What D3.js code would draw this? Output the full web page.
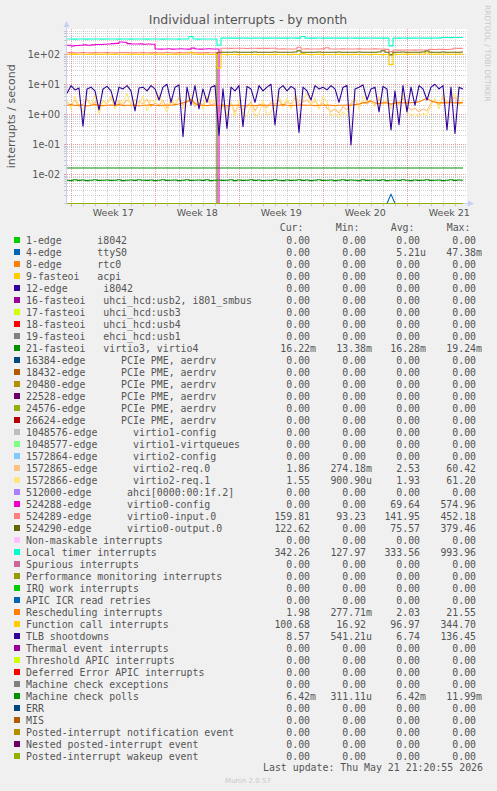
<!DOCTYPE html>
<html><head><meta charset="utf-8">
<script src="https://cdn.jsdelivr.net/npm/d3@7"></script>
<style>
html,body{margin:0;padding:0;background:#F0F0F0;}
svg{display:block;}
text{font-family:"DejaVu Sans",sans-serif;fill:#555;}
text.mono{font-family:"DejaVu Sans Mono",monospace;white-space:pre;}
</style></head><body>
<svg id="chart" width="497" height="791"></svg>
<script>
// ---------- DATA ----------
const chartTitle = "Individual interrupts - by month";
const yAxisLabel = "interrupts / second";
const viewStart = "2026-04-18T15:20:55Z";
const viewEnd = "2026-05-21T23:20:55Z";
const stepHours = 8;
const lastUpdate = "Last update: Thu May 21 21:20:55 2026";
const versionText = "Munin 2.0.57";
const watermark = "RRDTOOL / TOBI OETIKER";

const yTickValues = [100, 10, 1, 0.1, 0.01];
const yTickLabels = ["1e+02", "1e+01", "1e+00", "1e-01", "1e-02"];
const weekStarts = ["2026-04-19", "2026-04-26", "2026-05-03", "2026-05-10", "2026-05-17"];
const weekLabels = ["Week 17", "Week 18", "Week 19", "Week 20", "Week 21"];

const seriesNames = [
  "1-edge      i8042", "4-edge      ttyS0", "8-edge      rtc0", "9-fasteoi   acpi",
  "12-edge      i8042", "16-fasteoi   uhci_hcd:usb2, i801_smbus", "17-fasteoi   uhci_hcd:usb3",
  "18-fasteoi   uhci_hcd:usb4", "19-fasteoi   ehci_hcd:usb1", "21-fasteoi   virtio3, virtio4",
  "16384-edge      PCIe PME, aerdrv", "18432-edge      PCIe PME, aerdrv", "20480-edge      PCIe PME, aerdrv",
  "22528-edge      PCIe PME, aerdrv", "24576-edge      PCIe PME, aerdrv", "26624-edge      PCIe PME, aerdrv",
  "1048576-edge      virtio1-config", "1048577-edge      virtio1-virtqueues", "1572864-edge      virtio2-config",
  "1572865-edge      virtio2-req.0", "1572866-edge      virtio2-req.1", "512000-edge      ahci[0000:00:1f.2]",
  "524288-edge      virtio0-config", "524289-edge      virtio0-input.0", "524290-edge      virtio0-output.0",
  "Non-maskable interrupts", "Local timer interrupts", "Spurious interrupts",
  "Performance monitoring interrupts", "IRQ work interrupts", "APIC ICR read retries",
  "Rescheduling interrupts", "Function call interrupts", "TLB shootdowns",
  "Thermal event interrupts", "Threshold APIC interrupts", "Deferred Error APIC interrupts",
  "Machine check exceptions", "Machine check polls", "ERR", "MIS",
  "Posted-interrupt notification event", "Nested posted-interrupt event", "Posted-interrupt wakeup event"
];
const seriesColors = [
  "#00CC00","#0066B3","#FF8000","#FFCC00","#330099","#990099","#CCFF00","#FF0000","#808080",
  "#008F00","#00487D","#B35A00","#B38F00","#6B006B","#8FB300","#B30000","#BEBEBE",
  "#80FF80","#80C9FF","#FFC080","#FFE680","#AA80FF","#EE00CC","#FF8080",
  "#666600","#FFBFFF","#00FFCC","#CC6699","#999900",
  "#00CC00","#0066B3","#FF8000","#FFCC00","#330099","#990099","#CCFF00","#FF0000","#808080",
  "#008F00","#00487D","#B35A00","#B38F00","#6B006B","#8FB300"
];
const Z = "0.00";
const legendCur = [Z,Z,Z,Z,Z,Z,Z,Z,Z,"16.22m",Z,Z,Z,Z,Z,Z,Z,Z,Z,"1.86","1.55",Z,Z,"159.81","122.62",Z,"342.26",Z,Z,Z,Z,"1.98","100.68","8.57",Z,Z,Z,Z,"6.42m",Z,Z,Z,Z,Z];
const legendMin = [Z,Z,Z,Z,Z,Z,Z,Z,Z,"13.38m",Z,Z,Z,Z,Z,Z,Z,Z,Z,"274.18m","900.90u",Z,Z,"93.23",Z,Z,"127.97",Z,Z,Z,Z,"277.71m","16.92","541.21u",Z,Z,Z,Z,"311.11u",Z,Z,Z,Z,Z];
const legendAvg = [Z,"5.21u",Z,Z,Z,Z,Z,Z,Z,"16.28m",Z,Z,Z,Z,Z,Z,Z,Z,Z,"2.53","1.93",Z,"69.64","141.95","75.57",Z,"333.56",Z,Z,Z,Z,"2.03","96.97","6.74",Z,Z,Z,Z,"6.42m",Z,Z,Z,Z,Z];
const legendMax = [Z,"47.38m",Z,Z,Z,Z,Z,Z,Z,"19.24m",Z,Z,Z,Z,Z,Z,Z,Z,Z,"60.42","61.20",Z,"574.96","452.18","379.46",Z,"993.96",Z,Z,Z,Z,"21.55","344.70","136.45",Z,Z,Z,Z,"11.99m",Z,Z,Z,Z,Z];

// series values, one point every 8 hours from viewStart (100 points)
const ttyS0 = [0,0,0,0,0,0,0,0,0,0, 0,0,0,0,0,0,0,0,0,0, 0,0,0,0,0,0,0,0,0,0, 0,0,0,0,0,0,0,0,0,0,
  0,0,0,0,0,0,0,0,0,0, 0,0,0,0,0,0,0,0,0,0, 0,0,0,0,0,0,0,0,0,0, 0,0,0,0,0,0,0,0,0,0,
  0,0.0022,0,0,0,0,0,0,0,0, 0,0,0,0,0,0,0,0,0,0];
const irq21 = [0.0162,0.0162,0.0162,0.0162,0.0162,0.0162,0.0162,0.0162,0.0162,0.0162,
  0.0162,0.0162,0.0162,0.0162,0.0162,0.0162,0.0162,0.0162,0.0162,0.0162,
  0.0162,0.0162,0.0162,0.0162,0.0162,0.0162,0.0162,0.0162,0.0162,0.0162,
  0.0162,0.0162,0.0162,0.0162,0.0162,0.0162,0.0162,0.0162,0.0162,0.0162,
  0.0162,0.0162,0.0162,0.0162,0.0162,0.0162,0.0162,0.0162,0.0162,0.0162,
  0.0162,0.0162,0.0162,0.0162,0.0162,0.0162,0.0162,0.0162,0.0162,0.0162,
  0.0162,0.0162,0.0162,0.0162,0.0162,0.0162,0.0162,0.0162,0.0162,0.0162,
  0.0162,0.0162,0.0162,0.0162,0.0162,0.0162,0.0162,0.0162,0.0162,0.0162,
  0.0162,0.0162,0.0162,0.0162,0.0162,0.0162,0.0162,0.0162,0.0162,0.0162,
  0.0162,0.0162,0.0162,0.0162,0.0162,0.0162,0.0162,0.0162,0.0162,0.0162];
const virtio2Req0 = [2.5,2,3,1.8,2.2,3.2,2,2.6,1.5,2.8,
  2.2,3.5,1.8,2.5,2.1,3,2.4,1.9,2.7,2.2,
  3.2,1.8,2.4,2,2.9,1.6,2.5,2.2,3.4,2,
  2.6,3,1.8,2.4,2.1,3.3,2,2.5,1.5,2.2,
  1.6,2.4,1.2,2,1.4,1.8,2.6,1.3,2.2,1.9,
  1.7,2.5,2,3,1.8,2.7,2.2,3.5,2,2.6,
  3,2.2,2.8,1.9,2.4,1.6,1.2,1.5,1.1,1.8,
  1.4,2.4,3,2,2.6,2.2,2.8,2,3.2,2.4,
  2.8,2,2.5,2.2,3.4,1.8,1.4,1.6,1.2,1.5,
  1.3,2.4,3,2,3.5,2.4,2.8,3.8,2.2,2.6];
const virtio2Req1 = [3,1.5,4,2,1.2,3.5,2,4.5,1,3,
  2.2,4,1.5,3,2.5,5,1.8,3.2,2,4,
  1.3,3,2.5,4.5,2,1.2,3.5,2,4,1.5,
  3,4.5,2,3.5,1.5,4,2.5,3,1.2,2,
  0.9,2.5,0.85,3,1,0.9,2,0.85,1,3,
  0.9,1.2,2.5,4,2,3.5,1.5,4.5,2.5,3,
  5,2,3.5,1.5,4,2.5,0.9,1,0.8,1.2,
  0.9,2,3.5,1.5,4,2.5,3,1.8,4,2,
  3.5,1.5,3,2,4.5,1.2,0.9,1,0.85,1.1,
  0.9,2,3.5,1.5,4.5,2.5,3,5,2,3.5];
const virtio0Config = [200,190,195,200,205,200,205,210,212,215,
  220,225,230,255,250,225,220,218,222,215,
  218,215,150,148,150,152,148,150,153,150,
  148,160,150,148,150,152,150,150,0,0,
  0,0,0,0,0,0,0,0,0,0, 0,0,0,0,0,0,0,0,0,0, 0,0,0,0,0,0,0,0,0,0,
  0,0,0,0,0,0,0,0,0,0, 0,0,0,0,0,0,0,0,0,0, 0,0,0,0,0,0,0,0,0,0];
const virtio0Input = [112,113,111,112,114,112,111,113,112,112,
  113,112,111,112,114,113,112,111,112,113,
  112,111,113,112,112,114,112,111,113,112,
  112,113,112,111,112,113,112,112,105,158,
  158,157,159,158,158,156,158,159,157,158,
  157,158,158,150,151,150,149,150,170,150,
  151,150,149,150,151,165,150,149,150,151,
  150,149,150,151,150,150,149,151,150,150,
  145,122,138,137,138,139,138,137,138,139,
  138,145,144,146,145,144,146,158,157,158];
const virtio0Output = [0,0,0,0,0,0,0,0,0,0, 0,0,0,0,0,0,0,0,0,0, 0,0,0,0,0,0,0,0,0,0,
  0,0,0,0,0,0,0,0,117,117,
  117,116,118,117,117,116,117,118,117,117,
  116,117,118,117,117,116,117,118,130,117,
  117,116,117,118,117,117,116,117,118,117,
  117,116,117,118,117,117,116,117,118,130,
  117,95,117,116,118,117,117,116,117,118,
  128,117,116,117,118,117,117,116,117,118];
const localTimer = [320,322,318,320,321,319,320,322,320,318,
  320,321,320,319,322,320,318,320,321,320,
  319,320,322,320,318,320,321,320,319,320,
  322,390,320,318,320,321,320,322,200,345,
  348,345,343,345,347,345,342,345,346,345,
  344,345,347,345,343,345,346,345,344,390,
  345,343,345,347,345,344,345,346,343,345,
  345,347,344,345,343,345,346,345,344,345,
  345,190,345,343,346,345,344,345,347,345,
  345,344,346,345,360,362,358,360,361,360];
const rescheduling = [2.0,2.1,1.95,2.05,2.0,1.9,2.0,2.1,2.0,1.95,
  2.0,2.05,2.0,2.1,1.95,2.0,2.0,2.05,1.9,2.0,
  2.0,2.1,2.0,1.95,2.0,2.05,2.0,2.1,2.2,2.4,
  2.6,3.2,2.3,2.0,2.0,1.95,2.0,2.05,2.0,2.0,
  1.95,2.0,2.0,2.05,1.9,2.0,2.0,1.95,2.0,2.05,
  2.0,2.0,1.95,2.0,2.1,2.0,1.95,2.0,2.0,2.05,
  2.0,2.0,1.95,2.0,2.0,2.05,2.0,1.95,2.0,2.0,
  2.05,2.0,2.1,2.2,2.4,2.5,2.8,2.4,2.3,2.4,
  2.4,2.2,2.4,2.5,2.4,2.4,2.45,2.5,2.6,3.0,
  3.4,2.8,2.5,2.4,2.45,2.4,2.5,2.4,2.45,2.4];
const functionCall = [100,101,99,100,102,98,100,101,99,100,
  101,100,99,102,100,98,101,100,99,100,
  100,102,99,100,101,98,100,99,101,100,
  102,115,100,99,101,100,98,100,35,98,
  97,98,99,97,98,96,98,99,97,98,
  98,97,99,98,96,98,97,99,98,105,
  98,97,98,99,97,98,96,98,99,97,
  98,97,99,98,96,98,97,99,98,97,
  98,45,99,98,100,101,99,100,102,100,
  112,100,99,101,100,102,99,100,101,100];
const tlbShootdowns = [5,9,6.5,7.5,0.4,7,8,6,1.4,7,
  8.5,6,2,8,7,9,6,1.3,7.5,8,
  6,9,7,3,8,10,2.5,8,9.5,0.18,
  8,2,9,1.5,7,2.5,8,9,0.2,7,
  0.34,8,6,9,0.39,8.5,7,2.5,9,6,
  8,10,0.44,7,9,6,8.5,7,0.25,8,
  6,3,9,7,8,6.5,9,7,2.5,8,
  9,0.095,7,8,9.5,3,7,8,1.2,8.5,
  7,0.3,6,0.45,9,1.2,8,2,9,7,
  3,8,10,7,9,0.3,8,0.23,8,7];
const mcePolls = [0.0064,0.0062,0.0066,0.0063,0.0065,0.0062,0.0064,0.0066,0.0063,0.0064,
  0.0065,0.0063,0.0064,0.0066,0.0062,0.0064,0.0065,0.0063,0.0066,0.0064,
  0.0063,0.0065,0.0062,0.0064,0.0066,0.0063,0.0064,0.0065,0.0062,0.0064,
  0.0066,0.0063,0.0064,0.0065,0.0063,0.0066,0.0062,0.0064,0.0065,0.0063,
  0.0064,0.0066,0.0062,0.0065,0.0063,0.0064,0.0066,0.0063,0.0065,0.0062,
  0.0064,0.0063,0.0066,0.0064,0.0062,0.0065,0.0063,0.0064,0.0066,0.0063,
  0.0065,0.0062,0.0064,0.0066,0.0063,0.0064,0.0065,0.0062,0.0064,0.0066,
  0.0063,0.0065,0.0064,0.0062,0.0066,0.0063,0.0064,0.0065,0.0063,0.0066,
  0.0062,0.0064,0.0065,0.0063,0.0066,0.0064,0.0062,0.0065,0.0063,0.0064,
  0.0066,0.0063,0.0064,0.0065,0.0062,0.0064,0.0066,0.0063,0.0065,0.0064];

// index of legend row -> values (rows not listed are zero throughout)
const seriesValues = {1: ttyS0, 9: irq21, 19: virtio2Req0, 20: virtio2Req1, 22: virtio0Config,
  23: virtio0Input, 24: virtio0Output, 26: localTimer, 31: rescheduling, 32: functionCall,
  33: tlbShootdowns, 38: mcePolls};
const linearRows = [1, 19, 20, 31, 33];
const stepAfterRows = [22];

// ---------- DRAW ----------
const svg = d3.select("#chart");
const plot = {left: 67, right: 467, top: 29, bottom: 203.5};
const t0 = new Date(viewStart), t1 = new Date(viewEnd);
const x = d3.scaleUtc().domain([t0, t1]).range([plot.left, plot.right]);
const yMin = Math.pow(10, -2.97), yMax = Math.pow(10, 2.84);
const y = d3.scaleLog().domain([yMin, yMax]).range([plot.bottom, plot.top]).clamp(true);
const yv = v => v > 0 ? y(v) : y(yMin);
const nPts = tlbShootdowns.length;
const times = d3.range(nPts).map(i => new Date(+t0 + i * stepHours * 3600e3));

// canvas
svg.append("rect").attr("x", plot.left).attr("y", plot.top)
  .attr("width", plot.right - plot.left).attr("height", plot.bottom - plot.top + 0.5).attr("fill", "#fff");

const grid = svg.append("g");
const minorCol = "rgba(150,150,150,0.45)", majorCol = "rgba(230,80,80,0.55)";
for (let e = -3; e <= 2; e++) {
  for (let m = 2; m <= 9; m++) {
    const v = m * Math.pow(10, e);
    if (v < yMin || v > yMax) continue;
    const yy = Math.round(y(v)) + 0.5;
    grid.append("line").attr("x1", plot.left).attr("x2", plot.right).attr("y1", yy).attr("y2", yy)
      .attr("stroke", minorCol).attr("stroke-dasharray", "1,1");
    grid.append("line").attr("x1", plot.left - 3).attr("x2", plot.left).attr("y1", yy).attr("y2", yy)
      .attr("stroke", minorCol);
  }
}
const sundays = weekStarts.map(d => +new Date(d + "T00:00:00Z"));
d3.utcDay.range(t0, t1).forEach(d => {
  if (sundays.includes(+d)) return;
  const xx = Math.round(x(d)) + 0.5;
  grid.append("line").attr("x1", xx).attr("x2", xx).attr("y1", plot.top).attr("y2", plot.bottom)
    .attr("stroke", minorCol).attr("stroke-dasharray", "1,1");
  grid.append("line").attr("x1", xx).attr("x2", xx).attr("y1", plot.bottom).attr("y2", plot.bottom + 3)
    .attr("stroke", minorCol);
});
yTickValues.forEach((v, i) => {
  const yy = Math.round(y(v)) + 0.5;
  grid.append("line").attr("x1", plot.left).attr("x2", plot.right).attr("y1", yy).attr("y2", yy)
    .attr("stroke", majorCol).attr("stroke-dasharray", "1,1");
  grid.append("line").attr("x1", plot.left - 3).attr("x2", plot.left).attr("y1", yy).attr("y2", yy)
    .attr("stroke", majorCol);
  svg.append("text").attr("x", 60).attr("y", y(v) + 3.5).attr("text-anchor", "end")
    .attr("font-size", "9.6px").text(yTickLabels[i]);
});
weekStarts.forEach((d, i) => {
  const dt = new Date(d + "T00:00:00Z");
  const xx = Math.round(x(dt)) + 0.5;
  grid.append("line").attr("x1", xx).attr("x2", xx).attr("y1", plot.top).attr("y2", plot.bottom)
    .attr("stroke", majorCol).attr("stroke-dasharray", "1,1");
  grid.append("line").attr("x1", xx).attr("x2", xx).attr("y1", plot.bottom).attr("y2", plot.bottom + 3)
    .attr("stroke", majorCol);
  const mid = new Date(+dt + 3.5 * 86400e3);
  svg.append("text").attr("x", x(mid)).attr("y", 216).attr("text-anchor", "middle")
    .attr("font-size", "9.5px").text(weekLabels[i]);
});

// axes
const axisCol = "#C8D0F4";
svg.append("line").attr("x1", plot.left - 0.5).attr("x2", plot.left - 0.5).attr("y1", plot.bottom + 1).attr("y2", 25)
  .attr("stroke", axisCol);
svg.append("line").attr("x1", plot.left - 3).attr("x2", plot.right + 2).attr("y1", plot.bottom).attr("y2", plot.bottom)
  .attr("stroke", axisCol);
svg.append("path").attr("d", `M${plot.left - 3.5},27 L${plot.left - 0.5},21 L${plot.left + 2.5},27 Z`).attr("fill", axisCol);
svg.append("path").attr("d", `M${plot.right + 1},${plot.bottom - 3} L${plot.right + 7},${plot.bottom} L${plot.right + 1},${plot.bottom + 3} Z`).attr("fill", axisCol);

// series
svg.append("clipPath").attr("id", "clip").append("rect")
  .attr("x", plot.left).attr("y", plot.top).attr("width", plot.right - plot.left).attr("height", plot.bottom - plot.top + 1.5);
const gSeries = svg.append("g").attr("clip-path", "url(#clip)");
seriesNames.forEach((name, r) => {
  const vals = seriesValues[r] || new Array(nPts).fill(0);
  const curve = linearRows.includes(r) ? d3.curveLinear : (stepAfterRows.includes(r) ? d3.curveStepAfter : d3.curveStep);
  const line = d3.line().x((d, i) => x(times[i])).y(d => yv(d)).curve(curve);
  gSeries.append("path").attr("d", line(vals)).attr("fill", "none")
    .attr("stroke", seriesColors[r]).attr("stroke-width", 1.1).attr("stroke-linejoin", "round");
});

// titles
svg.append("text").attr("x", 248).attr("y", 23.5).attr("text-anchor", "middle")
  .attr("font-size", "12.5px").text(chartTitle);
svg.append("text").attr("transform", `translate(14.5,${(plot.top + plot.bottom) / 2}) rotate(-90)`)
  .attr("text-anchor", "middle").attr("font-size", "11px").text(yAxisLabel);
svg.append("text").attr("transform", "translate(485,5) rotate(90)")
  .attr("font-size", "7.5px").style("fill", "#c8c8c8").text(watermark);

// legend
const nb = s => s.replace(/ /g, "\u00a0");
const colEdges = [316, 372, 426, 482];
const headers = ["Cur:", "Min:", "Avg:", "Max:"];
const headerEdges = [303.5, 359.5, 414.5, 470.5];
headers.forEach((h, k) => {
  svg.append("text").attr("class", "mono").attr("x", headerEdges[k]).attr("y", 231.3)
    .attr("text-anchor", "end").attr("font-size", "9.9px").text(h);
});
const valueCols = [legendCur, legendMin, legendAvg, legendMax];
seriesNames.forEach((name, r) => {
  const cy = 240 + 12 * r;
  svg.append("rect").attr("x", 14).attr("y", cy - 3).attr("width", 6).attr("height", 6).attr("fill", seriesColors[r]);
  svg.append("text").attr("class", "mono").attr("x", 26).attr("y", cy + 3.6)
    .attr("font-size", "9.9px").text(nb(name));
  valueCols.forEach((col, k) => {
    const s = col[r];
    const txt = /[a-zA-Z]$/.test(s) ? s : s + "\u00a0";
    svg.append("text").attr("class", "mono").attr("x", colEdges[k]).attr("y", cy + 3.6)
      .attr("text-anchor", "end").attr("font-size", "9.9px").text(txt);
  });
});
svg.append("text").attr("class", "mono").attr("x", 483).attr("y", 770.6).attr("text-anchor", "end")
  .attr("font-size", "9.9px").text(nb(lastUpdate));
svg.append("text").attr("x", 248).attr("y", 782.5).attr("text-anchor", "middle")
  .attr("font-size", "7px").style("fill", "#c8c8c8").text(versionText);
</script>
</body></html>
